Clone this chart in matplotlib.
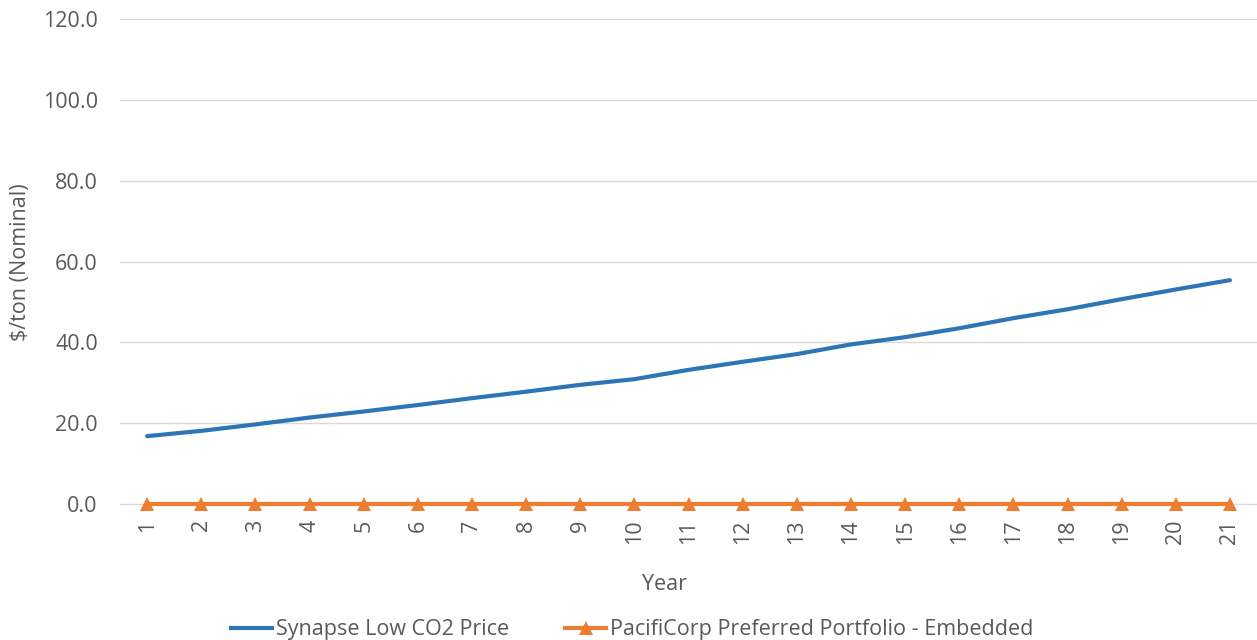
import matplotlib
matplotlib.use("Agg")
import matplotlib.pyplot as plt
from matplotlib.lines import Line2D

years = [str(i) for i in range(1, 22)]
synapse_low = [16.8, 18.1, 19.7, 21.4, 22.9, 24.5, 26.2, 27.8, 29.5, 30.9,
               33.2, 35.2, 37.1, 39.5, 41.3, 43.5, 46.0, 48.2, 50.7, 53.1, 55.4]
pacificorp = [0.0] * 21
yticks = [0, 20, 40, 60, 80, 100, 120]

series_names = ["Synapse Low CO2 Price", "PacifiCorp Preferred Portfolio - Embedded"]
blue = "#2E75B6"
orange = "#ED7D31"
gray = "#595959"

plt.rcParams['font.family'] = ['Open Sans', 'DejaVu Sans']
FS = 15.5

fig = plt.figure(figsize=(12.57, 6.4), dpi=100)
ax = fig.add_axes([0.0955, 0.2125, 0.9045, 0.7575])

x = list(range(1, len(years) + 1))
ax.plot(x, synapse_low, color=blue, lw=3, solid_capstyle='round', zorder=3, clip_on=False)
ax.plot(x, pacificorp, color=orange, lw=3, marker='^', markersize=10,
        markeredgewidth=0, zorder=3, clip_on=False)

ax.set_xlim(0.5, len(years) + 0.5)
ax.set_ylim(0, 120)
ax.set_yticks(yticks)
ax.set_yticklabels([f"{v:.1f}" for v in yticks], fontsize=FS, color=gray)
ax.set_xticks(x)
ax.set_xticklabels(years, rotation=90, fontsize=FS, color=gray)
ax.tick_params(axis='both', length=0)
ax.tick_params(axis='y', pad=16)
ax.tick_params(axis='x', pad=11)
ax.grid(axis='y', color='#D9D9D9', lw=1)
ax.set_axisbelow(True)
for s in ['top', 'right', 'left']:
    ax.spines[s].set_visible(False)
ax.spines['bottom'].set_color('#D9D9D9')

fig.text(21 / 1257, 1 - 262 / 640, "$/ton (Nominal)", rotation=90, fontsize=FS,
         color=gray, ha='center', va='center')
fig.text(665 / 1257, 1 - 585 / 640, "Year", fontsize=FS, color=gray,
         ha='center', va='center')

handles = [Line2D([], [], color=blue, lw=3),
           Line2D([], [], color=orange, lw=3, marker='^', markersize=10, markeredgewidth=0)]
fig.legend(handles, series_names, loc='center', bbox_to_anchor=(0.503, 1 - 630 / 640),
           ncol=2, frameon=False, fontsize=FS, handlelength=1.9, handletextpad=0.2,
           columnspacing=2.6, labelcolor=gray, borderpad=0)

fig.savefig("out.png", dpi=100)
